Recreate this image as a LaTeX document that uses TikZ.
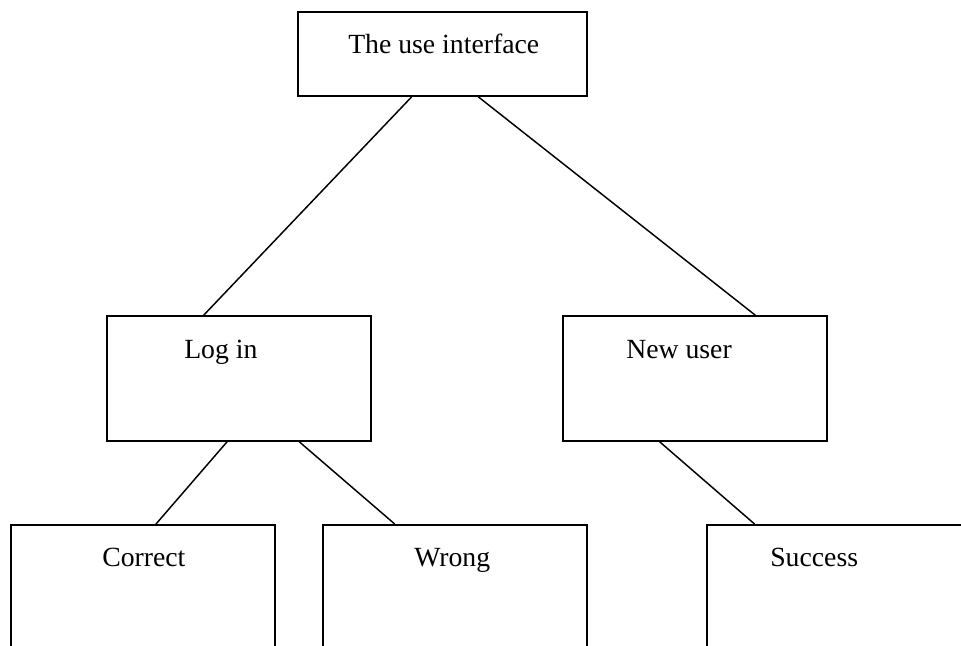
\documentclass[tikz,border=0pt]{standalone}
\usepackage{fontspec}
\setmainfont{Liberation Serif}
\usetikzlibrary{positioning,calc}

\tikzset{
  box/.style={draw, line width=1.2pt, minimum width=198pt, minimum height=93.75pt, inner sep=0pt},
  lowbox/.style={box, minimum height=120pt, anchor=north},
  caption/.style={font=\fontsize{20.8}{25}\selectfont, inner sep=0pt, anchor=base west},
  link/.style={line width=1.1pt},
}

\begin{document}
\begin{tikzpicture}[x=0.75pt, y=-0.75pt]
  \useasboundingbox[fill=white] (0,0) rectangle (961,646);
  \clip (0,0) rectangle (961,646);

  % boxes
  \node[box, minimum width=216.75pt, minimum height=63pt] (ui) at (442.5,54) {};
  \node[box] (login) at (239,378.5) {};
  \node[box] (newuser) at (695,378.5) {};
  \node[lowbox] (correct) at (143,524) {};
  \node[lowbox] (wrong) at (455,524) {};
  \node[lowbox] (success) at (839,524) {};

  % captions
  \node[caption] (uitxt) at (348,53) {The use interface};
  \node[caption] (logintxt) at (184,358) {Log in};
  \node[caption] (newusertxt) at (626,358) {New user};
  \node[caption] (correcttxt) at (102,566) {Correct};
  \node[caption] (wrongtxt) at (414,566) {Wrong};
  \node[caption] (successtxt) at (770,566) {Success};

  % links
  \begin{scope}[link]
    \draw ($(ui.south west)!.394!(ui.south east)$) -- ($(login.north west)!.367!(login.north east)$);
    \draw ($(ui.south west)!.623!(ui.south east)$) -- ($(newuser.north west)!.727!(newuser.north east)$);
    \draw ($(login.south west)!.455!(login.south east)$) -- ($(correct.north west)!.549!(correct.north east)$);
    \draw ($(login.south west)!.727!(login.south east)$) -- ($(wrong.north west)!.273!(wrong.north east)$);
    \draw ($(newuser.south west)!.367!(newuser.south east)$) -- ($(success.north west)!.182!(success.north east)$);
  \end{scope}
\end{tikzpicture}
\end{document}
